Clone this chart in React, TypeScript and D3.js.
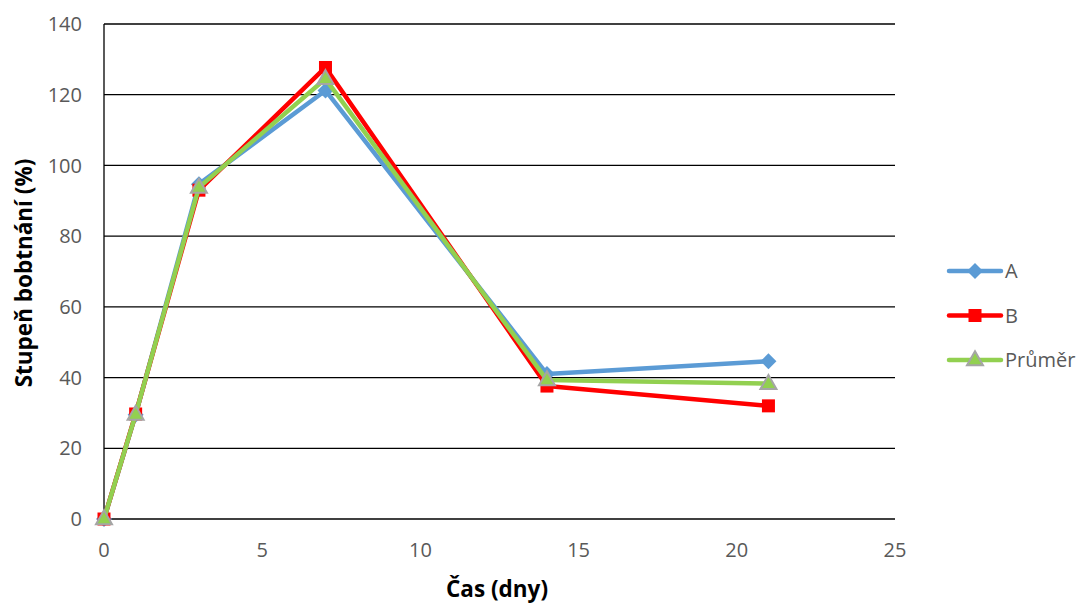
import React from "react";
import * as d3 from "d3";

// Swelling degree (%) over time (days)
const days = [0, 1, 3, 7, 14, 21];
const seriesA = [0, 29.5, 94.7, 121.2, 41.0, 44.6];
const seriesB = [0, 29.7, 93.0, 127.7, 37.6, 32.0];
const seriesAvg = [0, 29.6, 93.8, 124.5, 39.3, 38.3];
const yTicks = [0, 20, 40, 60, 80, 100, 120, 140];
const xTicks = [0, 5, 10, 15, 20, 25];
const seriesNames = ["A", "B", "Průměr"];

const W = 1082;
const H = 603;
const M = { left: 104, right: 895, top: 24, bottom: 519 };
const FONT = "'Open Sans', 'Noto Sans', sans-serif";

const colors = ["#5B9BD5", "#FF0000", "#92D050"];

function Marker({ kind, x, y }: { kind: number; x: number; y: number }) {
  if (kind === 0) {
    const r = 8;
    return (
      <path
        d={`M${x},${y - r}L${x + r},${y}L${x},${y + r}L${x - r},${y}Z`}
        fill={colors[0]}
      />
    );
  }
  if (kind === 1) {
    const s = 13;
    return <rect x={x - s / 2} y={y - s / 2} width={s} height={s} fill={colors[1]} />;
  }
  const h = 14;
  const w = 16;
  return (
    <path
      d={`M${x},${y - h * 0.62}L${x + w / 2},${y + h * 0.38}L${x - w / 2},${y + h * 0.38}Z`}
      fill={colors[2]}
      stroke="#A5A5A5"
      strokeWidth={2}
      strokeLinejoin="miter"
    />
  );
}

export default function App() {
  const x = d3.scaleLinear().domain([0, 25]).range([M.left, M.right]);
  const y = d3.scaleLinear().domain([0, 140]).range([M.bottom, M.top]);
  const line = d3
    .line<[number, number]>()
    .x((d) => x(d[0]))
    .y((d) => y(d[1]));
  const all = [seriesA, seriesB, seriesAvg];
  const yMid = 273;

  return (
    <svg width={W} height={H} style={{ display: "block", position: "absolute", left: 0, top: 0 }}>
      <rect width={W} height={H} fill="#fff" />
      {yTicks.map((t) => (
        <g key={t}>
          <line x1={M.left} x2={M.right} y1={y(t)} y2={y(t)} stroke="#000" strokeWidth={1.3} />
          <text
            x={M.left - 22}
            y={y(t)}
            dy="0.36em"
            textAnchor="end"
            fontFamily={FONT}
            fontSize={20}
            fill="#595959"
          >
            {t}
          </text>
        </g>
      ))}
      <line x1={M.left} x2={M.left} y1={M.top} y2={M.bottom} stroke="#000" strokeWidth={1.3} />
      {xTicks.map((t) => (
        <text
          key={t}
          x={x(t)}
          y={M.bottom + 38}
          textAnchor="middle"
          fontFamily={FONT}
          fontSize={20}
          fill="#595959"
        >
          {t}
        </text>
      ))}
      {all.map((s, i) => (
        <g key={i}>
          <path
            d={line(days.map((d, j) => [d, s[j]] as [number, number])) || ""}
            fill="none"
            stroke={colors[i]}
            strokeWidth={4.5}
            strokeLinejoin="round"
            strokeLinecap="round"
          />
          {days.map((d, j) => (
            <Marker key={j} kind={i} x={x(d)} y={y(s[j])} />
          ))}
        </g>
      ))}
      <text
        x={23}
        y={yMid}
        transform={`rotate(-90, 23, ${yMid})`}
        textAnchor="middle"
        dominantBaseline="central"
        fontFamily={FONT}
        fontSize={22.5}
        fontWeight="bold"
        fill="#000"
      >
        Stupeň bobtnání (%)
      </text>
      <text
        x={497}
        y={597}
        textAnchor="middle"
        fontFamily={FONT}
        fontSize={22.5}
        fontWeight="bold"
        fill="#000"
      >
        Čas (dny)
      </text>
      {seriesNames.map((n, i) => {
        const ly = 271 + i * 44.5;
        return (
          <g key={n}>
            <line x1={949} x2={1001} y1={ly} y2={ly} stroke={colors[i]} strokeWidth={4.5} strokeLinecap="round" />
            <Marker kind={i} x={975} y={ly} />
            <text x={1005} y={ly} dy="0.36em" fontFamily={FONT} fontSize={20} fill="#595959">
              {n}
            </text>
          </g>
        );
      })}
    </svg>
  );
}
